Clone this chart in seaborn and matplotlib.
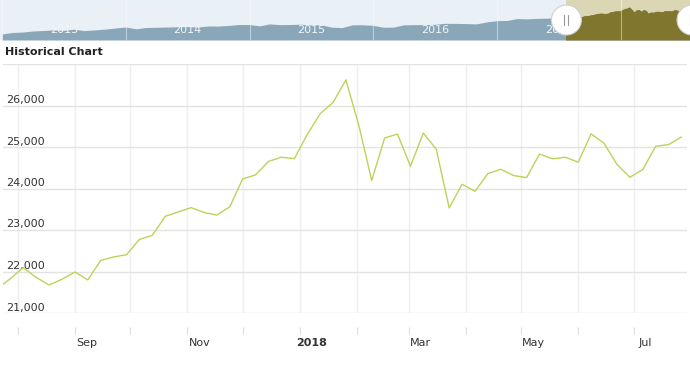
import pandas as pd
import seaborn as sns
import matplotlib.pyplot as plt
import matplotlib.dates as mdates
import matplotlib.patches as mpatches
import matplotlib.transforms as mtransforms
from matplotlib.lines import Line2D

# weekly closes in the main chart (Fridays, Jul 2017 - Jul 2018)
week_start = "2017-07-21"
weekly_close = [
    21580, 21830, 22092, 21858, 21674, 21813, 21988, 21798, 22268, 22350,
    22405, 22773, 22871, 23329, 23434, 23539, 23422, 23358, 23558, 24231,
    24329, 24652, 24754, 24719, 25296, 25803, 26072, 26617, 25521, 24191,
    25219, 25310, 24538, 25336, 24946, 23533, 24103, 23933, 24360, 24463,
    24311, 24263, 24831, 24715, 24753, 24635, 25317, 25090, 24581, 24271,
    24456, 25019, 25058, 25241,
]

# monthly closes for the navigator strip (Dec 2012 - Jun 2017)
nav_start = "2012-12-31"
nav_monthly = [
    13104,
    13861, 14054, 14579, 14840, 15116, 14910, 15500, 14810, 15130, 15546, 16086, 16577,
    15699, 16322, 16458, 16581, 16717, 16827, 16563, 17098, 17043, 17391, 17828, 17823,
    17165, 18133, 17776, 17841, 18011, 17620, 17690, 16528, 16285, 17664, 17720, 17425,
    16466, 16517, 17685, 17774, 17787, 17930, 18432, 18401, 18308, 18142, 19124, 19763,
    19864, 20812, 20663, 20941, 21009, 21350,
]

y_ticks = [21000, 22000, 23000, 24000, 25000, 26000, 27000]
month_labels = ["", "Sep", "", "Nov", "", "2018", "", "Mar", "", "May", "", "Jul"]
nav_years = [2013, 2014, 2015, 2016, 2017]

view_start, view_end = pd.Timestamp("2017-07-24"), pd.Timestamp("2018-07-30")

LINE = "#b9d45a"
NAV_BG = "#e9f0f6"
NAV_AREA = "#8aa7ba"
SEL_BG = "#dbd7b5"
SEL_AREA = "#81762d"

sns.set_style("white")
plt.rcParams["font.family"] = ["DejaVu Sans"]

W, H = 690, 368
fig = plt.figure(figsize=(W / 100, H / 100), dpi=100)


def box(x0, y0, x1, y1):
    # pixel box measured from the top-left corner
    return [x0 / W, 1 - y1 / H, (x1 - x0) / W, (y1 - y0) / H]


# ---- main chart ----
ax = fig.add_axes(box(3, 64, 687, 313))
df = pd.DataFrame({
    "date": pd.date_range(week_start, periods=len(weekly_close), freq="W-FRI"),
    "close": weekly_close,
})
sns.lineplot(data=df, x="date", y="close", ax=ax, color=LINE, linewidth=1.0)
ax.set_xlim(view_start, view_end)
ax.set_ylim(y_ticks[0], y_ticks[-1])
ax.set_xlabel("")
ax.set_ylabel("")

ax.set_yticks(y_ticks)
ax.set_yticklabels([f"{v:,}" for v in y_ticks[:-1]] + [""])
month_ticks = pd.date_range("2017-08-01", periods=len(month_labels), freq="MS")
ax.set_xticks(month_ticks)
ax.set_xticklabels(month_labels)

ax.grid(axis="y", color="#e3e3e3", linewidth=1.0)
ax.grid(axis="x", color="#efefef", linewidth=1.0)
for s in ax.spines.values():
    s.set_visible(False)
ax.spines["bottom"].set_position(("outward", 10))

ax.tick_params(axis="y", length=0, pad=-2, labelsize=8, labelcolor="#333333")
ax.tick_params(axis="x", bottom=True, length=5, width=0.8, color="#dcdcdc", pad=3,
               labelsize=8, labelcolor="#333333")
# y labels sit inside the plot, just above their grid line
for lbl in ax.get_yticklabels():
    lbl.set_horizontalalignment("left")
    lbl.set_transform(lbl.get_transform() +
                      mtransforms.ScaledTranslation(0, 0.065, fig.dpi_scale_trans))
# month labels are drawn a little to the right of their tick
for lbl in ax.get_xticklabels():
    lbl.set_transform(lbl.get_transform() +
                      mtransforms.ScaledTranslation(0.12, 0, fig.dpi_scale_trans))
    if lbl.get_text() == "2018":
        lbl.set_fontweight("bold")

fig.text(5 / W, 1 - 52 / H, "Historical Chart", fontsize=8, fontweight="bold",
         color="#222222", va="center", ha="left")

# ---- navigator strip ----
nav = fig.add_axes(box(0, 0, 690, 40))
nav_df = pd.concat([
    pd.DataFrame({"date": pd.date_range(nav_start, periods=len(nav_monthly), freq="ME"),
                  "close": nav_monthly}),
    df,
], ignore_index=True)
nav.set_facecolor(NAV_BG)
nav.set_xlim(pd.Timestamp("2012-12-25"), pd.Timestamp("2018-07-24"))
nav.set_ylim(10100, 30100)
sel = nav.axvspan(view_start, view_end, color=SEL_BG, lw=0, zorder=0.5)
nav.fill_between(nav_df["date"], nav_df["close"], 10100, color=NAV_AREA, lw=0, zorder=1)
olive = nav.fill_between(nav_df["date"], nav_df["close"], 10100, color=SEL_AREA,
                         lw=0, zorder=2)
olive.set_clip_path(sel)
for yr in nav_years + [2018]:
    nav.axvline(pd.Timestamp(f"{yr}-01-01"), color="white", alpha=0.45, lw=0.8, zorder=3)
blend = mtransforms.blended_transform_factory(nav.transData, nav.transAxes)
for yr in nav_years:
    nav.text(pd.Timestamp(f"{yr}-07-02"), 0.25, str(yr), transform=blend,
             ha="center", va="center", fontsize=8, color="#f2f5f8", zorder=4)
nav.set_xticks([])
nav.set_yticks([])
for s in nav.spines.values():
    s.set_visible(False)

# range handles
ident = mtransforms.IdentityTransform()
for d in (view_start, view_end):
    hx = nav.transData.transform((mdates.date2num(d), 0))[0]
    hy = H - 20
    fig.add_artist(mpatches.Circle((hx, hy), 15, transform=ident, facecolor="white",
                                   edgecolor="#d0d0d0", lw=0.8, zorder=10))
    for dx in (-2, 2):
        fig.add_artist(Line2D([hx + dx, hx + dx], [hy - 5, hy + 5], transform=ident,
                              color="#999999", lw=0.8, zorder=11))

fig.savefig("out.png", dpi=100)
